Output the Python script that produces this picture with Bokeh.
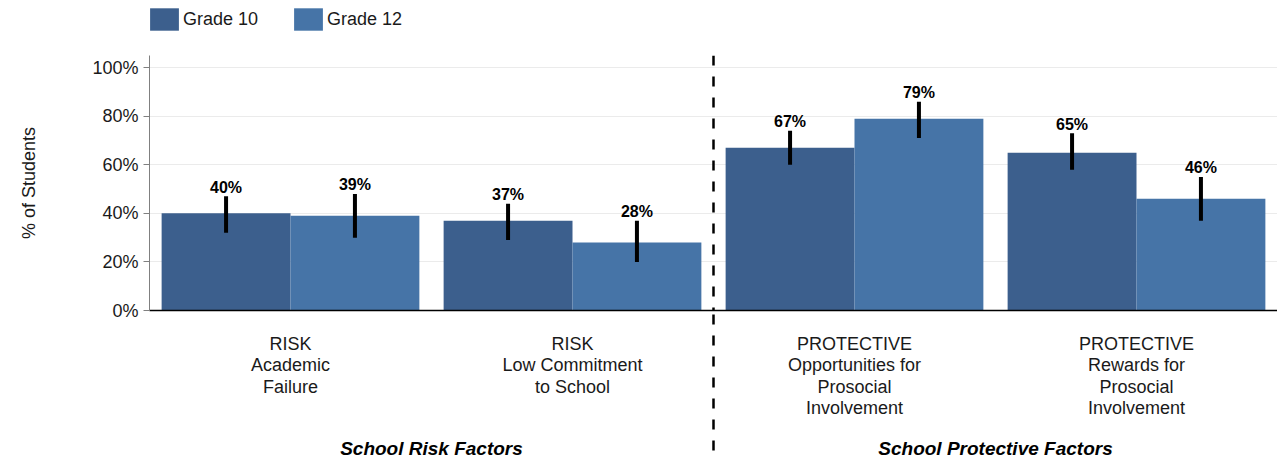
from bokeh.plotting import figure
from bokeh.models import (FactorRange, Range1d, ColumnDataSource, FixedTicker, PrintfTickFormatter,
                          Span, Legend, LegendItem)
from bokeh.layouts import column
from bokeh.transform import dodge
from bokeh.core.properties import value
from bokeh.embed import file_html
from bokeh.resources import INLINE

groups = ["School Risk Factors", "School Risk Factors",
          "School Protective Factors", "School Protective Factors"]
categories = ["RISK\nAcademic\nFailure", "RISK\nLow Commitment\nto School",
              "PROTECTIVE\nOpportunities for\nProsocial\nInvolvement",
              "PROTECTIVE\nRewards for\nProsocial\nInvolvement"]
grade10 = [40, 37, 67, 65]
grade12 = [39, 28, 79, 46]
grade10_low = [32, 29, 60, 58]
grade10_high = [47, 44, 74, 73]
grade12_low = [30, 20, 71, 37]
grade12_high = [48, 37, 86, 55]
y_ticks = [0, 20, 40, 60, 80, 100]

FONT = "Liberation Sans"
C10 = "#3c5f8d"
C12 = "#4674a7"

factors = list(zip(groups, categories))
src = ColumnDataSource(dict(
    x=factors,
    g10=grade10, g12=grade12,
    g10lo=grade10_low, g10hi=grade10_high,
    g12lo=grade12_low, g12hi=grade12_high,
    t10=[f"{v}%" for v in grade10], t12=[f"{v}%" for v in grade12],
))

# ---- legend strip (own small figure above the chart) ----
lg = figure(width=1277, height=40, x_range=FactorRange(factors=factors),
            y_range=Range1d(1000, 1001), output_backend="svg", toolbar_location=None,
            x_axis_location=None, y_axis_location=None,
            min_border_left=0, min_border_right=0, min_border_top=0, min_border_bottom=0)
lg.outline_line_color = None
lg.grid.grid_line_color = None
lr10 = lg.vbar(x="x", top="g10", width=0.4, source=src, fill_color=C10, line_color=None)
lr12 = lg.vbar(x="x", top="g12", width=0.4, source=src, fill_color=C12, line_color=None)
legend = Legend(items=[LegendItem(label="Grade 10", renderers=[lr10]),
                       LegendItem(label="Grade 12", renderers=[lr12])],
                orientation="horizontal", location=(-3, 7),
                glyph_width=36, glyph_height=28, label_standoff=1, spacing=32,
                padding=0, margin=0, border_line_color=None,
                background_fill_alpha=0,
                label_text_font=FONT, label_text_font_size="18px", label_text_color="#1a1a1a")
lg.add_layout(legend)

# ---- main chart ----
xr = FactorRange(factors=factors, factor_padding=0, group_padding=0, range_padding=0)
p = figure(x_range=xr, y_range=(0, 105), width=1277, height=426,
           output_backend="svg", toolbar_location=None,
           min_border_left=149, min_border_right=0, min_border_top=15, min_border_bottom=156)
p.outline_line_color = None
p.background_fill_color = "white"
p.xgrid.grid_line_color = None
p.ygrid.grid_line_color = "#ebebeb"
p.ygrid.ticker = FixedTicker(ticks=y_ticks)

off = 0.2285
w = 0.457
p.vbar(x=dodge("x", -off, range=xr), top="g10", width=w, source=src,
       fill_color=C10, line_color=None)
p.vbar(x=dodge("x", off, range=xr), top="g12", width=w, source=src,
       fill_color=C12, line_color=None)

p.segment(x0=dodge("x", -off, range=xr), x1=dodge("x", -off, range=xr),
          y0="g10lo", y1="g10hi", source=src, line_color="black", line_width=4)
p.segment(x0=dodge("x", off, range=xr), x1=dodge("x", off, range=xr),
          y0="g12lo", y1="g12hi", source=src, line_color="black", line_width=4)

p.text(x=dodge("x", -off, range=xr), y="g10hi", text="t10", source=src,
       text_align="center", text_baseline="alphabetic", y_offset=-9,
       text_font=value(FONT), text_font_style="bold", text_font_size="16px", text_color="black")
p.text(x=dodge("x", off, range=xr), y="g12hi", text="t12", source=src,
       text_align="center", text_baseline="alphabetic", y_offset=-9,
       text_font=value(FONT), text_font_style="bold", text_font_size="16px", text_color="black")

p.add_layout(Span(location=2, dimension="height", line_color="black",
                  line_width=2.5, line_dash="10 11"))

# y axis
p.yaxis.ticker = FixedTicker(ticks=y_ticks)
p.yaxis.formatter = PrintfTickFormatter(format="%d%%")
p.yaxis.axis_line_color = "#808080"
p.yaxis.major_tick_line_color = "#808080"
p.yaxis.major_tick_out = 6
p.yaxis.major_tick_in = 0
p.yaxis.minor_tick_line_color = None
p.yaxis.major_label_text_font = FONT
p.yaxis.major_label_text_font_size = "18px"
p.yaxis.major_label_text_color = "#1a1a1a"
p.yaxis.major_label_standoff = 5
p.yaxis.axis_label = "% of Students"
p.yaxis.axis_label_text_font = FONT
p.yaxis.axis_label_text_font_size = "18px"
p.yaxis.axis_label_text_font_style = "normal"
p.yaxis.axis_label_text_color = "#1a1a1a"
p.yaxis.axis_label_standoff = 50

# x axis
p.xaxis.axis_line_color = "black"
p.xaxis.axis_line_width = 1.5
p.xaxis.major_tick_line_color = None
p.xaxis.minor_tick_line_color = None
p.xaxis.major_label_text_font = FONT
p.xaxis.major_label_text_font_size = "18px"
p.xaxis.major_label_text_line_height = 1.08
p.xaxis.major_label_text_color = "#1a1a1a"
p.xaxis.major_label_standoff = 17
p.xaxis.group_text_font = FONT
p.xaxis.group_text_font_size = "19px"
p.xaxis.group_text_font_style = "bold italic"
p.xaxis.group_text_color = "black"
p.xaxis.separator_line_color = "black"
p.xaxis.separator_line_width = 2.5
p.xaxis.separator_line_dash = "10 11"

layout = column(lg, p, spacing=0)
open("out.html", "w").write(file_html(layout, INLINE))
